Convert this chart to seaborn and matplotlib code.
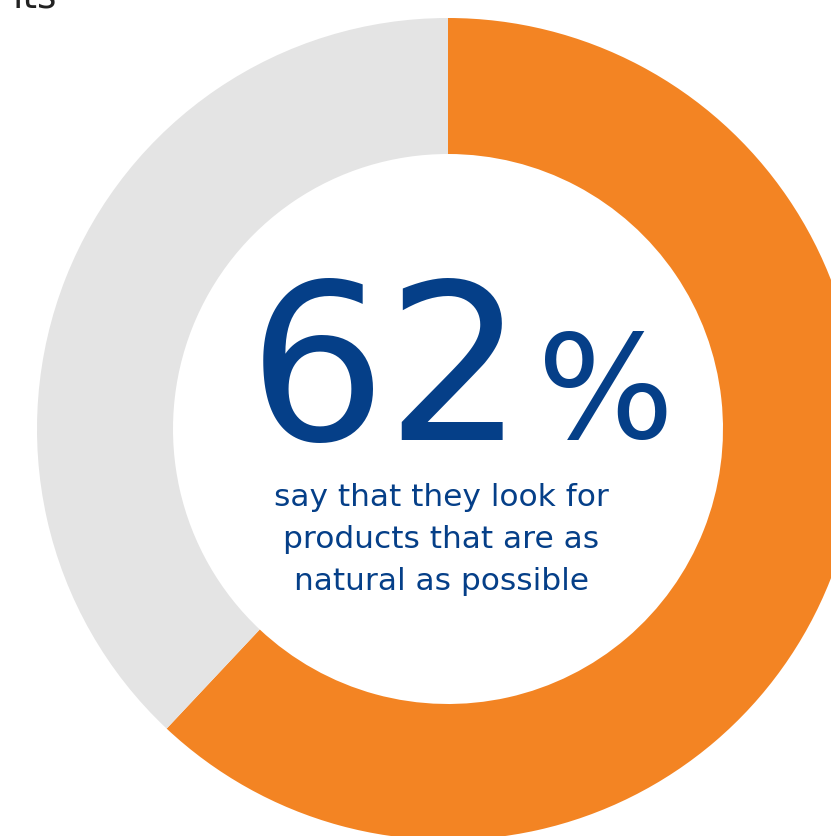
import matplotlib
matplotlib.use("Agg")
import matplotlib.pyplot as plt
import seaborn as sns

# Survey share shown in the donut
segments = ["Look for natural products", "Other"]
shares = [62, 38]
segment_colors = ["#F38423", "#E4E4E4"]

headline_number = "62"
headline_unit = "%"
caption_lines = ["say that they look for", "products that are as", "natural as possible"]
corner_text = "its"

sns.set_theme(style="white")
plt.rcParams["font.family"] = ["DejaVu Sans"]

W, H = 831, 836
fig = plt.figure(figsize=(W / 100, H / 100), dpi=100)
ax = fig.add_axes([0, 0, 1, 1])

cx, cy, r_out, ring = 448, H - 429, 411, 136
ax.pie(
    shares,
    colors=segment_colors,
    startangle=90,
    counterclock=False,
    center=(cx, cy),
    radius=r_out,
    wedgeprops=dict(width=ring, linewidth=0),
)
ax.set_xlim(0, W)
ax.set_ylim(0, H)
ax.set_aspect("equal")
ax.axis("off")

blue = "#053F88"
ax.text(525, H - 440, headline_number, ha="right", va="baseline",
        fontsize=157, color=blue)
ax.text(537, H - 438, headline_unit, ha="left", va="baseline",
        fontsize=104, color=blue)

for i, line in enumerate(caption_lines):
    ax.text(441, H - 506 - 42 * i, line, ha="center", va="baseline",
            fontsize=22.5, color=blue)

ax.text(13, H - 7, corner_text, ha="left", va="baseline",
        fontsize=27, color="#222222")

fig.savefig("out.png", dpi=100, facecolor="white")
